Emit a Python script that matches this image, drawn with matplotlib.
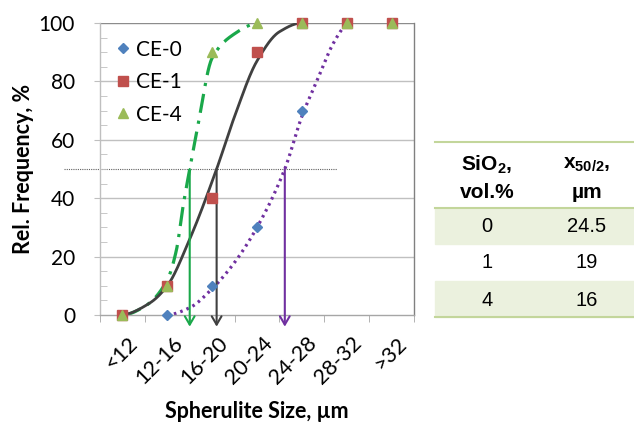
import numpy as np
import matplotlib
matplotlib.use("Agg")
import matplotlib.pyplot as plt
from matplotlib.lines import Line2D
from matplotlib.transforms import ScaledTranslation

plt.rcParams['mathtext.fontset'] = 'custom'
plt.rcParams['mathtext.rm'] = 'Liberation Sans'
plt.rcParams['mathtext.bf'] = 'Liberation Sans:bold'

# ---------------- data ----------------
categories = ["<12", "12-16", "16-20", "20-24", "24-28", "28-32", ">32"]
ce0 = [0, 0, 10, 30, 70, 100, 100]
ce1 = [0, 10, 40, 90, 100, 100, 100]
ce4 = [0, 10, 90, 100, 100, 100, 100]

# fitted curves (knots, category index units)
fit4_x = [0, 0.5, 1.0, 1.2, 1.36, 1.5, 1.66, 2.0, 2.47, 3.0]
fit4_y = [0, 3, 12, 22, 38, 50, 63, 88, 96, 100]
fit1_x = [0, 0.6, 1.0, 1.5, 2.1, 2.5, 3.0, 3.5, 4.0]
fit1_y = [0, 4, 10, 26, 50, 68, 87, 97, 100]
fit0_x = [1.0, 1.5, 2.0, 2.5, 3.0, 3.62, 4.0, 4.33, 4.7, 5.0]
fit0_y = [0, 2.5, 9, 18, 30, 50, 68, 80, 93, 100]

half_level = 50
x50_pos = [1.5, 2.1, 3.62]          # CE-4, CE-1, CE-0 arrow positions
arrow_colors = ["#1aa84a", "#404040", "#7030a0"]

table_header = [r"SiO$_\mathbf{2}$,", "vol.%", r"x$_\mathbf{50/2}$,", "µm"]
table_sio2 = ["0", "1", "4"]
table_x50 = ["24.5", "19", "16"]

# ---------------- helpers ----------------
def pchip(xk, yk, xs):
    xk = np.asarray(xk, float); yk = np.asarray(yk, float)
    h = np.diff(xk); d = np.diff(yk) / h
    n = len(xk); m = np.zeros(n)
    for k in range(1, n - 1):
        if d[k - 1] * d[k] > 0:
            w1 = 2 * h[k] + h[k - 1]; w2 = h[k] + 2 * h[k - 1]
            m[k] = (w1 + w2) / (w1 / d[k - 1] + w2 / d[k])
    m[0] = max(0.0, ((2 * h[0] + h[1]) * d[0] - h[0] * d[1]) / (h[0] + h[1]))
    m[-1] = max(0.0, ((2 * h[-1] + h[-2]) * d[-1] - h[-1] * d[-2]) / (h[-1] + h[-2]))
    idx = np.clip(np.searchsorted(xk, xs) - 1, 0, n - 2)
    t = (xs - xk[idx]) / h[idx]
    h00 = 2 * t**3 - 3 * t**2 + 1; h10 = t**3 - 2 * t**2 + t
    h01 = -2 * t**3 + 3 * t**2; h11 = t**3 - t**2
    return (h00 * yk[idx] + h10 * h[idx] * m[idx] + h01 * yk[idx + 1] + h11 * h[idx] * m[idx + 1])

# ---------------- figure ----------------
W, H = 634, 422
fig = plt.figure(figsize=(W / 100, H / 100), dpi=100)
ax = fig.add_axes([100 / W, 107 / H, 314 / W, 292 / H])
x = np.arange(len(categories))
ax.set_xlim(-0.5, len(categories) - 0.5)
ax.set_ylim(0, 100)

font = "Lato"
# grid
for yv in [20, 40, 60, 80]:
    ax.axhline(yv, color="#c0c0c0", lw=1.0, zorder=0)
ax.axhline(100, color="#8c8c8c", lw=1.0, zorder=0)
ax.spines["top"].set_visible(False)
ax.spines["right"].set_color("#808080")
ax.spines["left"].set_color("#bfbfbf")
ax.spines["bottom"].set_color("#a6a6a6")
for s in ax.spines.values():
    s.set_linewidth(1.0)

ax.set_yticks([0, 20, 40, 60, 80, 100])
ax.set_yticks(np.arange(0, 101, 5), minor=True)
ax.tick_params(axis="y", which="major", direction="out", length=4, color="#bfbfbf",
               labelsize=15, pad=14)
ax.tick_params(axis="y", which="minor", direction="in", length=5, color="#bfbfbf")
for lab in ax.get_yticklabels():
    lab.set_fontfamily(font)

ax.set_xticks(x)
ax.set_xticklabels(categories)
ax.set_xticks(np.arange(-0.5, len(categories)), minor=True)
ax.tick_params(axis="x", which="major", length=0, pad=13, labelsize=15.5)
ax.tick_params(axis="x", which="minor", direction="out", length=5, color="#a6a6a6")
off = ScaledTranslation(5 / 100, 0, fig.dpi_scale_trans)
for lab in ax.get_xticklabels():
    lab.set_fontfamily(font)
    lab.set_rotation(45)
    lab.set_ha("right")
    lab.set_va("top")
    lab.set_rotation_mode("anchor")
    lab.set_transform(lab.get_transform() + off)

# 50% reference line
ax.plot([-1.31, 4.78], [half_level, half_level], color="#606060", lw=0.8,
        ls=(0, (1, 1)), clip_on=False, zorder=1)

# fitted curves
xs4 = np.linspace(fit4_x[0], fit4_x[-1], 300)
ax.plot(xs4, pchip(fit4_x, fit4_y, xs4), color="#1aa84a", lw=2.3,
        ls=(0, (6, 2.5, 1, 2.5)), zorder=2)
xs1 = np.linspace(fit1_x[0], fit1_x[-1], 300)
ax.plot(xs1, pchip(fit1_x, fit1_y, xs1), color="#404040", lw=2.0, zorder=2)
xs0 = np.linspace(fit0_x[0], fit0_x[-1], 300)
ax.plot(xs0, pchip(fit0_x, fit0_y, xs0), color="#7030a0", lw=2.3,
        ls=(0, (0.8, 1.3)), zorder=2)

# arrows
for xp, c in zip(x50_pos, arrow_colors):
    ax.annotate("", xy=(xp, -4), xytext=(xp, half_level), annotation_clip=False,
                arrowprops=dict(arrowstyle="->,head_width=0.35,head_length=0.6",
                                color=c, lw=1.5, shrinkA=0, shrinkB=0), zorder=3)

# markers
ax.plot(x, ce0, ls="none", marker="D", ms=5.5, color="#4f81bd", clip_on=False, zorder=4, label="CE-0")
ax.plot(x, ce1, ls="none", marker="s", ms=7, color="#c0504d", clip_on=False, zorder=5, label="CE-1")
ax.plot(x, ce4, ls="none", marker="^", ms=7, color="#9bbb59", clip_on=False, zorder=6, label="CE-4")

leg = ax.legend(loc="upper left", bbox_to_anchor=(0.02, 0.972), frameon=False,
                handlelength=0.8, handletextpad=0.25, labelspacing=0.6,
                prop={"family": font, "size": 15}, borderaxespad=0)

# axis titles
fig.text(23 / W, 1 - 169 / H, "Rel. Frequency, %", rotation=90, ha="center", va="center",
         fontsize=15.5, fontweight="bold", family=font)
fig.text(257 / W, 1 - 411 / H, "Spherulite Size, µm", ha="center", va="center",
         fontsize=15.5, fontweight="bold", family=font)

# ---------------- table ----------------
tx0, tx1 = 435 / W, 1.0
line_c = "#c3d69b"
shade_c = "#ebf1de"
rows_top = [208, 244, 281]
row_h = 36
for i, rt in enumerate(rows_top):
    if i % 2 == 0:
        fig.patches.append(plt.Rectangle((tx0, 1 - (rt + row_h) / H), tx1 - tx0, row_h / H,
                                         transform=fig.transFigure, color=shade_c, zorder=0))
for yl, lw in [(142, 1.5), (208, 1.5), (317, 1.5)]:
    fig.add_artist(Line2D([tx0, tx1], [1 - yl / H, 1 - yl / H], color=line_c, lw=lw))

col1, col2 = 487 / W, 587 / W
hkw = dict(ha="center", va="center", fontsize=15, family="Liberation Sans", fontweight="bold")
tkw = dict(ha="center", va="center", fontsize=14.5, family="Liberation Sans")
fig.text(col1, 1 - 165 / H, table_header[0], **hkw)
fig.text(col1, 1 - 192 / H, table_header[1], **hkw)
fig.text(col2, 1 - 165 / H, table_header[2], **hkw)
fig.text(col2, 1 - 192 / H, table_header[3], **hkw)
for i, (a, b) in enumerate(zip(table_sio2, table_x50)):
    yc = 1 - (rows_top[i] + row_h / 2 + 1) / H
    fig.text(col1, yc, a, **tkw)
    fig.text(col2, yc, b, **tkw)

fig.savefig("out.png", dpi=100)
